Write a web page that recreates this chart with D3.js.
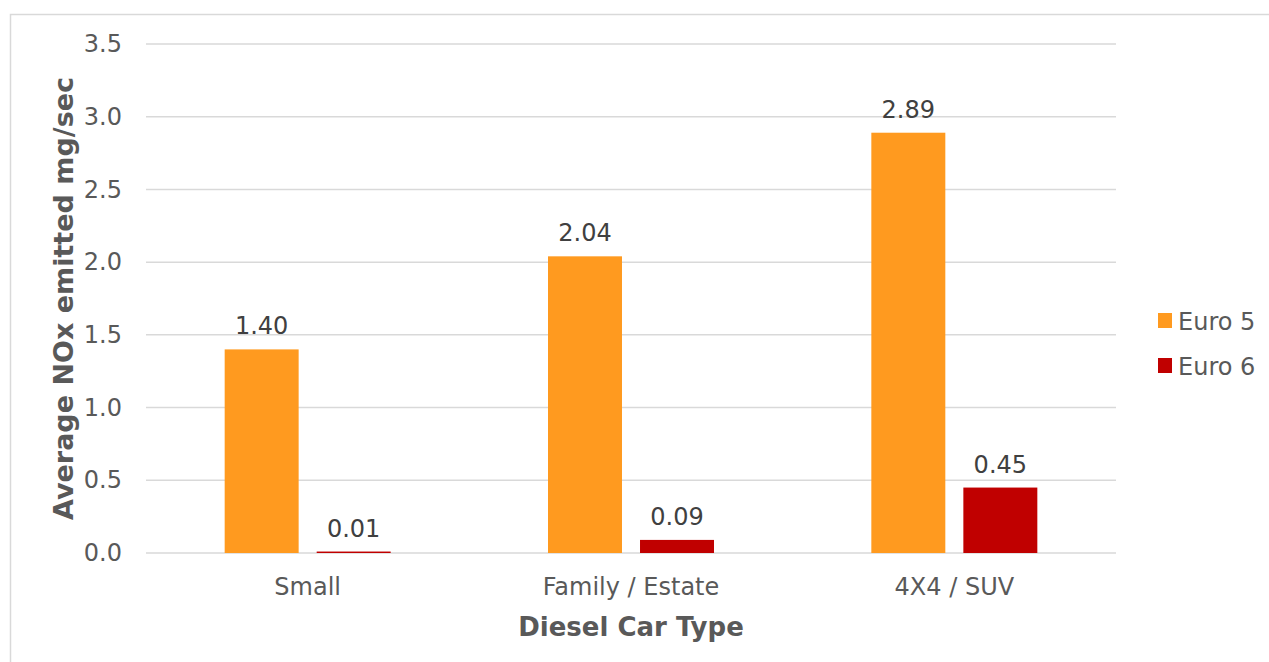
<!DOCTYPE html>
<html>
<head>
<meta charset="utf-8">
<script src="https://cdn.jsdelivr.net/npm/d3@7"></script>
<style>
  html, body { margin: 0; padding: 0; background: #fff; }
  svg { display: block; }
</style>
</head>
<body>
<div id="chart"></div>
<script>
// ---- data ----
const categories = ['Small', 'Family / Estate', '4X4 / SUV']
const seriesNames = ['Euro 5', 'Euro 6']
const euro5 = [1.40, 2.04, 2.89]
const euro6 = [0.01, 0.09, 0.45]
const yTicks = [0, 0.5, 1.0, 1.5, 2.0, 2.5, 3.0, 3.5]

const colors = ['#FF9A1F', '#C00000']
const font = '"DejaVu Sans", Verdana, sans-serif'

const W = 1269, H = 662
const margin = { top: 44, right: 153, bottom: 109, left: 146 }

const rows = categories.map((c, i) => ({ cat: c, values: [euro5[i], euro6[i]] }))

const svg = d3.select('#chart').append('svg')
  .attr('width', W).attr('height', H)

// outer chart border
svg.append('rect')
  .attr('x', 10.5).attr('y', 14.5)
  .attr('width', W).attr('height', H)
  .attr('fill', 'none').attr('stroke', '#D9D9D9').attr('stroke-width', 1.5)

const x0 = d3.scaleBand()
  .domain(categories)
  .range([margin.left, W - margin.right])

const x1 = d3.scaleBand()
  .domain(seriesNames)
  .range([0, x0.bandwidth()])
  .paddingInner(0.196)
  .paddingOuter(0.855)

const y = d3.scaleLinear()
  .domain([0, 3.5])
  .range([H - margin.bottom, margin.top])

// gridlines
svg.append('g')
  .selectAll('line')
  .data(yTicks)
  .join('line')
  .attr('x1', margin.left).attr('x2', W - margin.right)
  .attr('y1', d => y(d)).attr('y2', d => y(d))
  .attr('stroke', '#D9D9D9').attr('stroke-width', 1.5)

// y axis
svg.append('g')
  .attr('transform', `translate(${margin.left},0)`)
  .call(d3.axisLeft(y).tickValues(yTicks).tickFormat(d3.format('.1f')).tickSize(0).tickPadding(24))
  .call(g => {
    g.select('.domain').remove()
    g.selectAll('.tick text')
      .attr('fill', '#595959').attr('font-size', '24px')
      .attr('font-family', font)
  })

// x axis
svg.append('g')
  .attr('transform', `translate(0,${H - margin.bottom})`)
  .call(d3.axisBottom(x0).tickSize(0).tickPadding(25))
  .call(g => {
    g.select('.domain').remove()
    g.selectAll('.tick text')
      .attr('fill', '#595959').attr('font-size', '24px')
      .attr('font-family', font)
  })

// bars
const groups = svg.append('g')
  .selectAll('g')
  .data(rows)
  .join('g')
  .attr('transform', d => `translate(${x0(d.cat)},0)`)

const bars = groups.selectAll('g')
  .data(d => d.values.map((v, i) => ({ key: seriesNames[i], value: v, i })))
  .join('g')

bars.append('rect')
  .attr('x', d => x1(d.key))
  .attr('y', d => y(d.value))
  .attr('width', x1.bandwidth())
  .attr('height', d => y(0) - y(d.value))
  .attr('fill', d => colors[d.i])

bars.append('text')
  .attr('x', d => x1(d.key) + x1.bandwidth() / 2)
  .attr('y', d => y(d.value) - 15)
  .attr('text-anchor', 'middle')
  .attr('fill', '#404040').attr('font-size', '24px')
  .attr('font-family', font)
  .text(d => d.value.toFixed(2))

// axis titles
svg.append('text')
  .attr('transform', `translate(73,${(margin.top + H - margin.bottom) / 2}) rotate(-90)`)
  .attr('text-anchor', 'middle')
  .attr('fill', '#595959').attr('font-size', '27px').attr('font-weight', 'bold')
  .attr('font-family', font)
  .text('Average NOx emitted mg/sec')

svg.append('text')
  .attr('x', (margin.left + W - margin.right) / 2)
  .attr('y', 636)
  .attr('text-anchor', 'middle')
  .attr('fill', '#595959').attr('font-size', '26px').attr('font-weight', 'bold')
  .attr('font-family', font)
  .text('Diesel Car Type')

// legend
const legend = svg.append('g')
  .selectAll('g')
  .data(seriesNames)
  .join('g')
  .attr('transform', (d, i) => `translate(1158,${320.5 + i * 45})`)

legend.append('rect')
  .attr('x', 0).attr('y', -7.5)
  .attr('width', 14).attr('height', 15)
  .attr('fill', (d, i) => colors[i])

legend.append('text')
  .attr('x', 20).attr('y', 9)
  .attr('fill', '#595959').attr('font-size', '24px')
  .attr('font-family', font)
  .text(d => d)
</script>
</body>
</html>
